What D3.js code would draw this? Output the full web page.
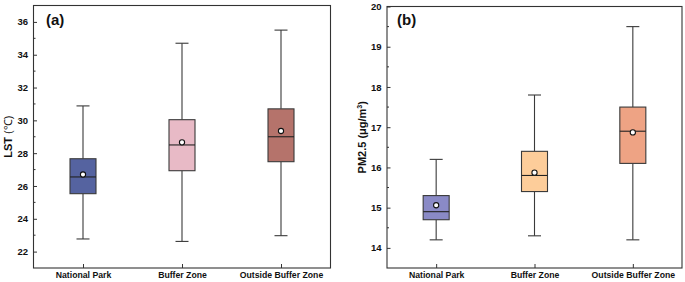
<!DOCTYPE html>
<html><head><meta charset="utf-8">
<script src="https://cdn.jsdelivr.net/npm/d3@7"></script>
<style>body{margin:0;background:#fff}svg{display:block}text{font-family:"Liberation Sans",Arial,sans-serif}</style>
</head><body>
<script>
const categories = ["National Park", "Buffer Zone", "Outside Buffer Zone"];
// LST panel (a): [min, q1, median, q3, max], mean
const lstStats = [[22.77, 25.53, 26.55, 27.66, 30.88], [22.62, 26.93, 28.5, 30.04, 34.7], [22.97, 27.48, 29.0, 30.7, 35.5]];
const lstMean = [26.7, 28.66, 29.35];
const lstColors = ["#5563a0", "#e8bac6", "#b5736b"];
const lstTicks = [22, 24, 26, 28, 30, 32, 34, 36];
// PM2.5 panel (b)
const pmStats = [[14.2, 14.7, 14.9, 15.3, 16.2], [14.3, 15.4, 15.8, 16.4, 17.8], [14.2, 16.1, 16.9, 17.5, 19.5]];
const pmMean = [15.06, 15.87, 16.87];
const pmColors = ["#8a8ac6", "#fdcd9a", "#eea384"];
const pmTicks = [14, 15, 16, 17, 18, 19, 20];

const W = 685, H = 282;
const svg = d3.select("body").append("svg").attr("width", W).attr("height", H);

function panel(opt) {
  const {x0, x1, y0, y1, domain, stats, means, colors, ticks, minorStep, tag, tagX, labelX, label} = opt;
  const g = svg.append("g");
  const x = d3.scalePoint().domain(categories).range([x0, x1]).padding(0.5);
  const y = d3.scaleLinear().domain(domain).range([y1, y0]);
  const boxW = 26, capW = 13;
  stats.forEach((s, i) => {
    const cx = x(categories[i]);
    const bg = g.append("g");
    bg.append("line").attr("x1", cx).attr("x2", cx).attr("y1", y(s[0])).attr("y2", y(s[1])).attr("stroke", "#3a3a3a").attr("stroke-width", 1.1);
    bg.append("line").attr("x1", cx).attr("x2", cx).attr("y1", y(s[3])).attr("y2", y(s[4])).attr("stroke", "#3a3a3a").attr("stroke-width", 1.1);
    [s[0], s[4]].forEach(v => bg.append("line").attr("x1", cx - capW/2).attr("x2", cx + capW/2).attr("y1", y(v)).attr("y2", y(v)).attr("stroke", "#3a3a3a").attr("stroke-width", 1.1));
    bg.append("rect").attr("x", cx - boxW/2).attr("width", boxW).attr("y", y(s[3])).attr("height", y(s[1]) - y(s[3]))
      .attr("fill", colors[i]).attr("stroke", "#3a3a3a").attr("stroke-width", 1.1);
    bg.append("line").attr("x1", cx - boxW/2).attr("x2", cx + boxW/2).attr("y1", y(s[2])).attr("y2", y(s[2])).attr("stroke", "#222").attr("stroke-width", 1.1);
    bg.append("circle").attr("cx", cx).attr("cy", y(means[i])).attr("r", 2.6).attr("fill", "#fff").attr("stroke", "#111").attr("stroke-width", 1.1);
  });
  g.append("rect").attr("x", x0).attr("y", y0).attr("width", x1 - x0).attr("height", y1 - y0).attr("fill", "none").attr("stroke", "#333").attr("stroke-width", 1.1);
  const yAxis = d3.axisLeft(y).tickValues(ticks).tickSize(-3.5).tickPadding(5.5).tickFormat(d3.format("d"));
  const ya = g.append("g").attr("transform", `translate(${x0},0)`).call(yAxis);
  ya.select(".domain").remove();
  ya.selectAll("line").attr("stroke", "#333");
  ya.selectAll("text").attr("font-size", "9.5px").attr("font-weight", "bold").attr("fill", "#111");
  const minor = d3.range(domain[0], domain[1] + 1e-9, minorStep).filter(v => !ticks.some(t => Math.abs(t - v) < 1e-9) && v > domain[0] + 1e-9 && v < domain[1] - 1e-9);
  g.selectAll(".mt").data(minor).enter().append("line").attr("x1", x0).attr("x2", x0 + 2).attr("y1", d => y(d)).attr("y2", d => y(d)).attr("stroke", "#333");
  const xAxis = d3.axisBottom(x).tickSize(-4).tickPadding(3.5);
  const xa = g.append("g").attr("transform", `translate(0,${y1})`).call(xAxis);
  xa.select(".domain").remove();
  xa.selectAll("line").attr("stroke", "#333");
  xa.selectAll("text").attr("font-size", "8.7px").attr("font-weight", "bold").attr("fill", "#111");
  g.append("text").attr("x", tagX).attr("y", 25).attr("font-size", "15px").attr("font-weight", "bold").attr("fill", "#111").text(tag);
  const lt = g.append("text").attr("transform", `translate(${labelX},${(y0 + y1) / 2}) rotate(-90)`).attr("text-anchor", "middle")
    .attr("font-size", "11px").attr("font-weight", "bold").attr("fill", "#111");
  label(lt);
}

panel({x0: 33.5, x1: 330.5, y0: 5.5, y1: 268, domain: [21, 37], stats: lstStats, means: lstMean, colors: lstColors,
  ticks: lstTicks, minorStep: 1, tag: "(a)", tagX: 46, labelX: 12,
  label: t => { t.append("tspan").text("LST "); t.append("tspan").attr("font-weight", "normal").attr("font-size", "11px").text("(℃)"); }});
panel({x0: 387, x1: 682, y0: 6.5, y1: 268, domain: [13.5, 20], stats: pmStats, means: pmMean, colors: pmColors,
  ticks: pmTicks, minorStep: 0.5, tag: "(b)", tagX: 397, labelX: 365.5,
  label: t => { t.append("tspan").text("PM2.5 (μg/m"); t.append("tspan").attr("font-size", "7px").attr("dy", "-4").text("3"); t.append("tspan").attr("dy", "4").text(")"); }});
</script>
</body></html>
